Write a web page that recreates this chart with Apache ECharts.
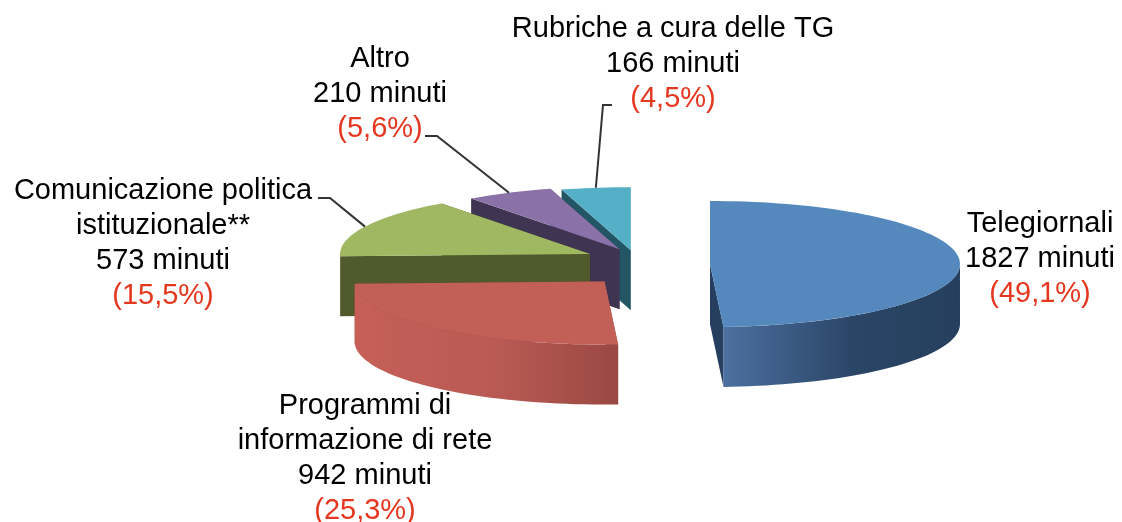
<!DOCTYPE html>
<html>
<head>
<meta charset="utf-8">
<script src="https://cdn.jsdelivr.net/npm/echarts@6.0.0/dist/echarts.min.js"></script>
<style>
  html, body { margin: 0; padding: 0; background: #fff; }
  #container { width: 1122px; height: 522px; }
</style>
</head>
<body>
<div id="container"></div>
<script>
// data (clockwise from 12 o'clock)
const categories = ['Telegiornali', 'Programmi di\ninformazione di rete', 'Comunicazione politica\nistituzionale**', 'Altro', 'Rubriche a cura delle TG'];
const minutes = [1827, 942, 573, 210, 166];
const percents = ['49,1%', '25,3%', '15,5%', '5,6%', '4,5%'];

// look of the tilted pie
const topColors = ['#5589BE', '#C25F57', '#A0B862', '#8A72A8', '#55AFC6'];
const wallColors = [['#4C70A0', '#2A4566', '#263F5E'], ['#C65F58', '#B85A53', '#9A4843'], ['#505A2C', '#505A2C', '#505A2C'], ['#3F3452', '#3F3452', '#3F3452'], ['#235664', '#235664', '#235664']];
const explode = [75, 45, 50, 35, 30];
const pie = { cx: 635, cy: 265, rx: 250, ry: 63, depth: 60, k: 0.5 };
// label block anchors (text centre x, first line centre y), leader start and stub length
const labelAt = [
  { x: 1040, y: 223, leader: null },
  { x: 365, y: 405, leader: null },
  { x: 163, y: 190, leader: [318, 198], stub: 12 },
  { x: 380, y: 58, leader: [425, 136], stub: 12 },
  { x: 673, y: 28, leader: [612, 105], stub: -9 }
];

const total = minutes.reduce((a, b) => a + b, 0);
const slices = [];
let acc = 90;
minutes.forEach((v, i) => {
  const span = v / total * 360;
  slices.push({ a0: acc, a1: acc - span, mid: acc - span / 2 });
  acc -= span;
});

const rad = d => d * Math.PI / 180;

function renderItem(params, api) {
  const i = params.dataIndex;
  const s = slices[i];
  const m = rad(s.mid);
  const cx = pie.cx + explode[i] * Math.cos(m);
  const cy = pie.cy - explode[i] * Math.sin(m) * pie.k;
  const pt = (a, dy) => [cx + pie.rx * Math.cos(rad(a)), cy - pie.ry * Math.sin(rad(a)) + (dy || 0)];
  const arc = (from, to, dy) => {
    const pts = [];
    const n = Math.max(2, Math.ceil(Math.abs(from - to) / 2));
    for (let j = 0; j <= n; j++) pts.push(pt(from + (to - from) * j / n, dy));
    return pts;
  };
  const D = pie.depth;
  const z = Math.round((1 - Math.sin(m)) * 100);
  const children = [];
  const grad = c => new echarts.graphic.LinearGradient(0, 0, 1, 0, [
    { offset: 0, color: c[0] }, { offset: 0.55, color: c[1] }, { offset: 1, color: c[2] }
  ]);

  // radial walls
  [s.a0, s.a1].forEach(a => {
    const p = pt(a);
    children.push({
      type: 'polygon', z2: z,
      shape: { points: [[cx, cy], p, [p[0], p[1] + D], [cx, cy + D]] },
      style: { fill: wallColors[i][2] }
    });
  });
  // outer wall, front half only
  const lo = Math.max(s.a1, -180), hi = Math.min(s.a0, 0);
  if (hi > lo) {
    const topArc = arc(hi, lo, 0);
    const botArc = arc(lo, hi, D);
    children.push({
      type: 'polygon', z2: z + 1,
      shape: { points: topArc.concat(botArc) },
      style: { fill: grad(wallColors[i]) }
    });
  }
  // top face
  children.push({
    type: 'polygon', z2: z + 2,
    shape: { points: [[cx, cy]].concat(arc(s.a0, s.a1, 0)) },
    style: { fill: topColors[i] }
  });

  // label
  const L = labelAt[i];
  const lines = categories[i].split('\n');
  const rich = lines.map(t => '{n|' + t + '}').join('\n') + '\n{n|' + minutes[i] + ' minuti}\n{p|(' + percents[i] + ')}';
  children.push({
    type: 'text', z2: 400,
    x: L.x, y: L.y - 17,
    style: {
      text: rich, align: 'center', verticalAlign: 'top',
      rich: {
        n: { fontFamily: 'Liberation Sans, Arial', fontSize: 29, lineHeight: 35, fill: '#000' },
        p: { fontFamily: 'Liberation Sans, Arial', fontSize: 29, lineHeight: 35, fill: '#E5361F' }
      }
    }
  });
  if (L.leader) {
    const end = pt(s.mid);
    children.push({
      type: 'polyline', z2: 300,
      shape: { points: [L.leader, [L.leader[0] + L.stub, L.leader[1]], end] },
      style: { stroke: '#333', lineWidth: 2, fill: null }
    });
  }
  return { type: 'group', children };
}

const chart = echarts.init(document.getElementById('container'));
chart.setOption({
  animation: false,
  series: [{
    type: 'custom',
    coordinateSystem: 'none',
    renderItem,
    data: minutes.map((v, i) => ({ name: categories[i], value: v }))
  }]
});
</script>
</body>
</html>
